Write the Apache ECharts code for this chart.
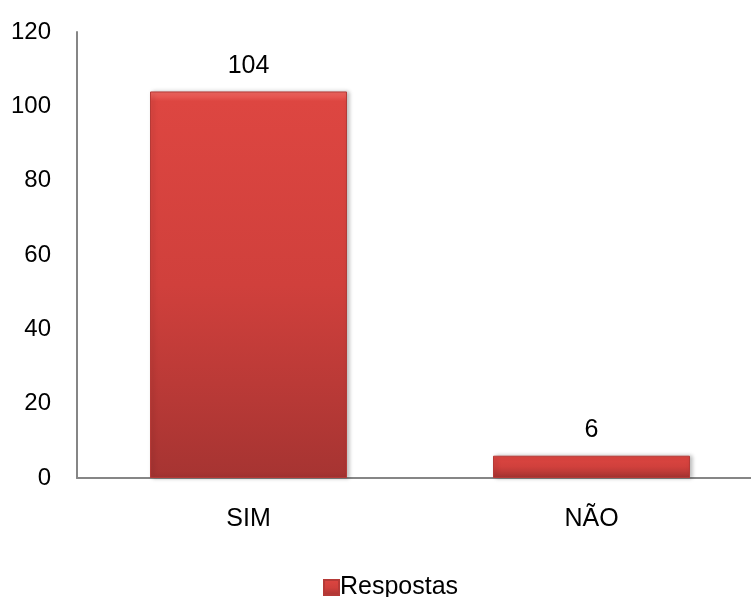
<!DOCTYPE html>
<html><head><meta charset="utf-8">
<script src="https://cdn.jsdelivr.net/npm/echarts@6/dist/echarts.min.js"></script>
<style>html,body{margin:0;padding:0;background:#fff;overflow:hidden}#c{width:763px;height:597px}</style>
</head><body><div id="c"></div>
<script>
var categories = ['SIM', 'NÃO'];
var seriesName = 'Respostas';
var values = [104, 6];
var yTicks = {min: 0, max: 120, interval: 20};

var chart = echarts.init(document.getElementById('c'));
var barColor = new echarts.graphic.LinearGradient(0, 0, 0, 1, [
  {offset: 0, color: '#f26a63'},
  {offset: 0.025, color: '#dd4641'},
  {offset: 0.5, color: '#d0403c'},
  {offset: 1, color: '#a63432'}
]);
var font = 'Liberation Sans, Arial, sans-serif';
chart.setOption({
  animation: false,
  textStyle: {fontFamily: font},
  grid: {left: 77, right: 0, top: 32, height: 446, containLabel: false},
  legend: {
    data: [seriesName], top: 570, left: 318,
    itemWidth: 15, itemHeight: 15, itemGap: 5,
    icon: 'rect',
    textStyle: {fontSize: 25, color: '#000', fontFamily: font, padding: [0, 0, 0, -4]}
  },
  xAxis: {
    type: 'category', data: categories,
    axisLine: {lineStyle: {color: '#868686', width: 2}},
    axisTick: {show: false},
    axisLabel: {fontSize: 25, color: '#000', margin: 29}
  },
  yAxis: {
    type: 'value', min: yTicks.min, max: yTicks.max, interval: yTicks.interval,
    axisLine: {show: true, lineStyle: {color: '#868686', width: 2}},
    axisTick: {show: false},
    splitLine: {show: false},
    axisLabel: {fontSize: 24, color: '#000', margin: 26, padding: [5, 0, 0, 0]}
  },
  series: [{
    name: seriesName, type: 'bar', data: values, barWidth: 197,
    itemStyle: {color: barColor, borderColor: '#b53a37', borderWidth: 1,
      shadowColor: 'rgba(0,0,0,0.25)', shadowBlur: 4, shadowOffsetX: 2},
    label: {show: true, position: 'top', distance: 13, fontSize: 25, color: '#000'}
  }]
});
</script></body></html>
